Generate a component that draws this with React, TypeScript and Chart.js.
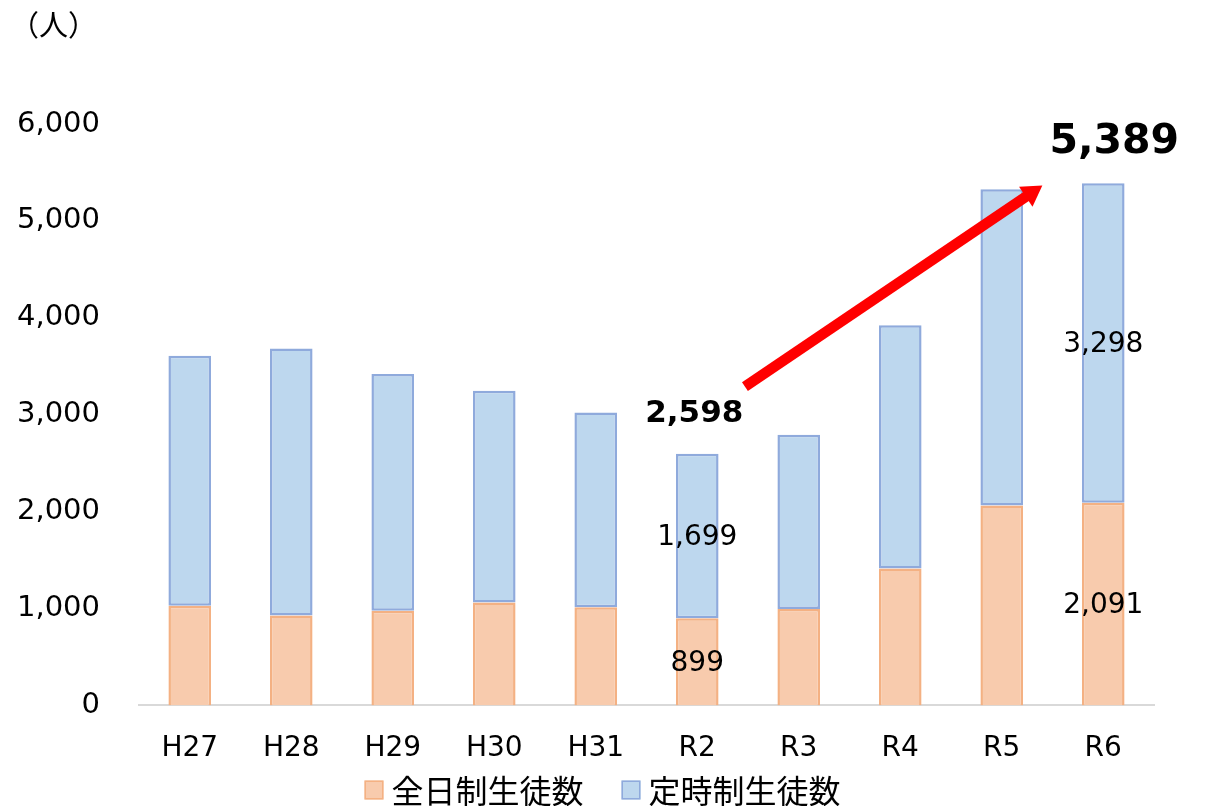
import React, { useEffect, useRef } from "react";
import { Chart, registerables } from "chart.js";

Chart.register(...registerables);

const categories = ["H27", "H28", "H29", "H30", "H31", "R2", "R3", "R4", "R5", "R6"];
const fullTimeStudents = [1029, 927, 978, 1063, 1012, 899, 995, 1413, 2064, 2091];
const partTimeStudents = [2579, 2756, 2442, 2185, 2011, 1699, 1798, 2510, 3262, 3298];
const seriesNames = ["全日制生徒数", "定時制生徒数"];
const yTicks = [0, 1000, 2000, 3000, 4000, 5000, 6000];
const labeledIndices = [5, 9];
const unitLabel = "（人）";
// arrow annotation in data units: [category index, value]
const arrowFrom = [5.47, 3290];
const arrowTo = [8.4, 5365];

const NUM_FONT = "'DejaVu Sans', 'Noto Sans CJK JP', sans-serif";
const JP_FONT = "'Noto Sans CJK JP', 'DejaVu Sans', sans-serif";
const COLORS = {
  fullFill: "#F8CBAD",
  fullBorder: "#F4B183",
  partFill: "#BDD7EE",
  partBorder: "#8FAADC",
  axis: "#D9D9D9",
  arrow: "#FF0000",
  text: "#000000",
};

const fmt = (v: number) => v.toLocaleString("en-US");

const overlayPlugin = {
  id: "overlay",
  afterDatasetsDraw(chart: any) {
    const { ctx, scales } = chart;
    const xs = scales.x;
    const ys = scales.y;
    ctx.save();

    // unit label
    ctx.fillStyle = COLORS.text;
    ctx.font = `29px ${JP_FONT}`;
    ctx.textAlign = "left";
    ctx.textBaseline = "middle";
    ctx.fillText(unitLabel, 10, 25);

    // segment labels and totals
    const metaFull = chart.getDatasetMeta(0);
    const metaPart = chart.getDatasetMeta(1);
    labeledIndices.forEach((i, k) => {
      const ef = metaFull.data[i];
      const ep = metaPart.data[i];
      ctx.font = `28px ${NUM_FONT}`;
      ctx.textAlign = "center";
      ctx.textBaseline = "middle";
      ctx.fillStyle = COLORS.text;
      ctx.fillText(fmt(fullTimeStudents[i]), ef.x, (ef.y + ef.base) / 2 + 2);
      ctx.fillText(fmt(partTimeStudents[i]), ep.x, (ep.y + ep.base) / 2 + 2);
      const total = fullTimeStudents[i] + partTimeStudents[i];
      const big = k === labeledIndices.length - 1;
      ctx.font = `bold ${big ? 41 : 31}px ${NUM_FONT}`;
      ctx.fillText(fmt(total), ep.x + (big ? 11 : -3), ep.y - (big ? 41 : 40));
    });

    // arrow
    const x1 = xs.getPixelForValue(arrowFrom[0]);
    const y1 = ys.getPixelForValue(arrowFrom[1]);
    const x2 = xs.getPixelForValue(arrowTo[0]);
    const y2 = ys.getPixelForValue(arrowTo[1]);
    const ang = Math.atan2(y2 - y1, x2 - x1);
    const headLen = 20;
    const headHalf = 12;
    const bx = x2 - headLen * Math.cos(ang);
    const by = y2 - headLen * Math.sin(ang);
    ctx.strokeStyle = COLORS.arrow;
    ctx.fillStyle = COLORS.arrow;
    ctx.lineWidth = 10.5;
    ctx.lineCap = "butt";
    ctx.beginPath();
    ctx.moveTo(x1, y1);
    ctx.lineTo(bx + Math.cos(ang) * 2, by + Math.sin(ang) * 2);
    ctx.stroke();
    ctx.beginPath();
    ctx.moveTo(x2, y2);
    ctx.lineTo(bx + headHalf * Math.sin(ang), by - headHalf * Math.cos(ang));
    ctx.lineTo(bx - headHalf * Math.sin(ang), by + headHalf * Math.cos(ang));
    ctx.closePath();
    ctx.fill();

    // legend
    ctx.font = `32px ${JP_FONT}`;
    ctx.textAlign = "left";
    ctx.textBaseline = "middle";
    const box = 19;
    const gap = 8;
    const spacing = 38;
    const widths = seriesNames.map((n) => ctx.measureText(n).width);
    const total = widths.reduce((a, w) => a + box + gap + w, 0) + spacing * (seriesNames.length - 1);
    let lx = chart.width / 2 - total / 2 - 3;
    const ly = 790;
    const fills = [COLORS.fullFill, COLORS.partFill];
    const borders = [COLORS.fullBorder, COLORS.partBorder];
    seriesNames.forEach((n, i) => {
      ctx.fillStyle = fills[i];
      ctx.fillRect(lx, ly - box / 2, box, box);
      ctx.strokeStyle = borders[i];
      ctx.lineWidth = 1.5;
      ctx.strokeRect(lx + 0.75, ly - box / 2 + 0.75, box - 1.5, box - 1.5);
      ctx.fillStyle = COLORS.text;
      ctx.fillText(n, lx + box + gap, ly + 1);
      lx += box + gap + widths[i] + spacing;
    });
    ctx.restore();
  },
};

export default function App() {
  const ref = useRef<HTMLCanvasElement | null>(null);
  useEffect(() => {
    if (!ref.current) return;
    const chart = new Chart(ref.current, {
      type: "bar",
      data: {
        labels: categories,
        datasets: [
          {
            label: seriesNames[0],
            data: fullTimeStudents,
            backgroundColor: COLORS.fullFill,
            borderColor: COLORS.fullBorder,
            borderWidth: 2.5,
            borderSkipped: "start",
            barPercentage: 0.42,
            categoryPercentage: 1,
          },
          {
            label: seriesNames[1],
            data: partTimeStudents,
            backgroundColor: COLORS.partFill,
            borderColor: COLORS.partBorder,
            borderWidth: 2.5,
            borderSkipped: false,
            barPercentage: 0.42,
            categoryPercentage: 1,
          },
        ],
      },
      options: {
        animation: false,
        responsive: false,
        layout: { padding: { top: 124, right: 57, bottom: 13, left: 0 } },
        plugins: { legend: { display: false }, tooltip: { enabled: false } },
        scales: {
          x: {
            stacked: true,
            grid: { display: false, drawTicks: false },
            border: { display: true, color: COLORS.axis, width: 2 },
            ticks: { font: { family: NUM_FONT, size: 28 }, color: COLORS.text, padding: 27 },
          },
          y: {
            stacked: true,
            min: 0,
            max: 6000,
            grid: { display: false, drawTicks: false },
            border: { display: false },
            afterBuildTicks: (scale: any) => {
              scale.ticks = yTicks.map((v) => ({ value: v }));
            },
            afterFit: (scale: any) => {
              scale.width = 139;
            },
            ticks: {
              font: { family: NUM_FONT, size: 29 },
              color: COLORS.text,
              padding: 39,
              callback: (v: any) => fmt(Number(v)),
            },
          },
        },
      },
      plugins: [overlayPlugin],
    });
    return () => chart.destroy();
  }, []);
  return (
    <div style={{ position: "absolute", left: 0, top: 0, width: 1211, height: 806, background: "#fff" }}>
      <canvas ref={ref} width={1211} height={806} style={{ display: "block" }} />
    </div>
  );
}
